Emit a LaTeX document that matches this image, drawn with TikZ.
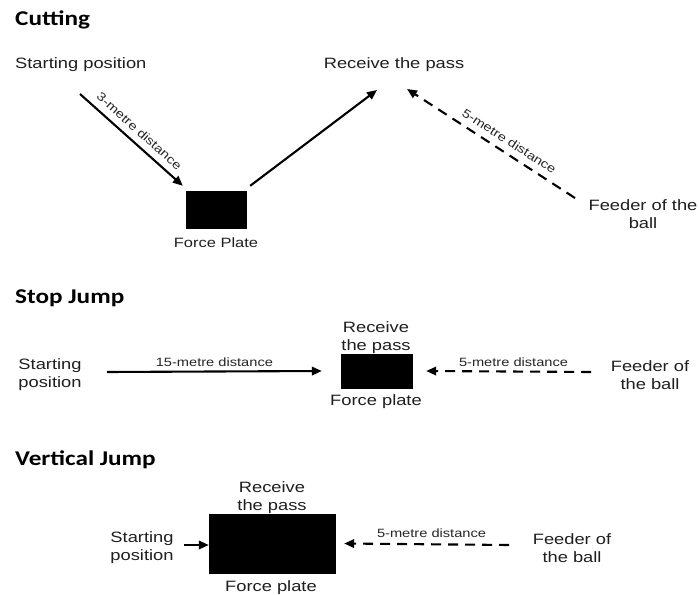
\documentclass[tikz,border=0pt]{standalone}
\usepackage{fontspec}
\setmainfont{Liberation Sans}[FakeStretch=1.22]
\newfontfamily\headfont{Carlito}[FakeStretch=1.2]
\usetikzlibrary{arrows.meta}
\tikzset{
  lbl/.style={font=\fontsize{15bp}{18bp}\selectfont, inner sep=0pt, text=black!88, align=center},
  small/.style={font=\fontsize{12bp}{14bp}\selectfont, inner sep=0pt, text=black!85},
  head/.style={font=\headfont\bfseries\fontsize{21bp}{25bp}\selectfont, inner sep=0pt, anchor=base west, text=black},
  plate/.style={fill=black, draw=black, inner sep=0pt},
  arr/.style={line width=2.1bp, draw=black, -{Triangle[length=10bp,width=8.5bp]}},
  darr/.style={arr, dash pattern=on 10bp off 7bp},
}
\begin{document}
\begin{tikzpicture}[x=1bp,y=-1bp]
\useasboundingbox[fill=white] (0,0) rectangle (699,595);

% ---------- Cutting ----------
\node[head] (h1) at (15,26) {Cutting};
\node[lbl, anchor=base west] (st1) at (15,69) {Starting position};
\node[lbl, anchor=base] (rp1) at (394,69) {Receive the pass};
\node[plate, minimum width=60bp, minimum height=37bp] (p1) at (216,209.5) {};
\node[lbl, font=\fontsize{13.5bp}{16bp}\selectfont, anchor=base] (fp1) at (216,247) {Force Plate};
\node[lbl] (fd1) at (643,214) {Feeder of the\\ball};
\coordinate (c1s) at (80,94);
\coordinate (c1e) at ([shift={(-3,-5)}]p1.north west);
\coordinate (c2s) at ([shift={(4,-5)}]p1.north east);
\coordinate (c2e) at (377,90);
\coordinate (c3s) at (575,198);
\coordinate (c3e) at (407,89);
\draw[arr] (c1s) -- node[small, sloped, above=6.5bp, midway] {3-metre distance} (c1e);
\draw[arr] (c2s) -- (c2e);
\draw[darr] (c3s) -- node[small, sloped, above=6.5bp, pos=0.43] {5-metre distance} (c3e);

% ---------- Stop Jump ----------
\node[head] (h2) at (15,303) {Stop Jump};
\node[lbl] (st2) at (50,375) {Starting\\position};
\node[plate, minimum width=71bp, minimum height=34bp] (p2) at (376.5,371) {};
\node[lbl] (rp2) at (376,338) {Receive\\the pass};
\node[lbl] (fp2) at (376,402) {Force plate};
\node[lbl] (fd2) at (650,375) {Feeder of\\the ball};
\coordinate (s2s) at (107,372);
\coordinate (s2e) at ([xshift=-19bp]p2.west);
\coordinate (d2s) at (591,372);
\coordinate (d2e) at ([xshift=14bp]p2.east);
\draw[arr] (s2s) -- node[small, above=4bp, midway] {15-metre distance} (s2e);
\draw[darr] (d2s) -- node[small, above=4bp, pos=0.47] {5-metre distance} (d2e);

% ---------- Vertical Jump ----------
\node[head] (h3) at (15,465) {Vertical Jump};
\node[lbl] (st3) at (142,548) {Starting\\position};
\node[plate, minimum width=126bp, minimum height=59bp] (p3) at (272,543.5) {};
\node[lbl] (rp3) at (272,498) {Receive\\the pass};
\node[lbl] (fp3) at (271,588) {Force plate};
\node[lbl] (fd3) at (572,548) {Feeder of\\the ball};
\coordinate (s3s) at (184,545);
\coordinate (d3s) at (509,545);
\coordinate (d3e) at ([xshift=9bp]p3.east);
\draw[arr] (s3s) -- (p3.west |- s3s);
\draw[darr] (d3s) -- node[small, above=6bp, pos=0.47] {5-metre distance} (d3e);
\end{tikzpicture}
\end{document}
